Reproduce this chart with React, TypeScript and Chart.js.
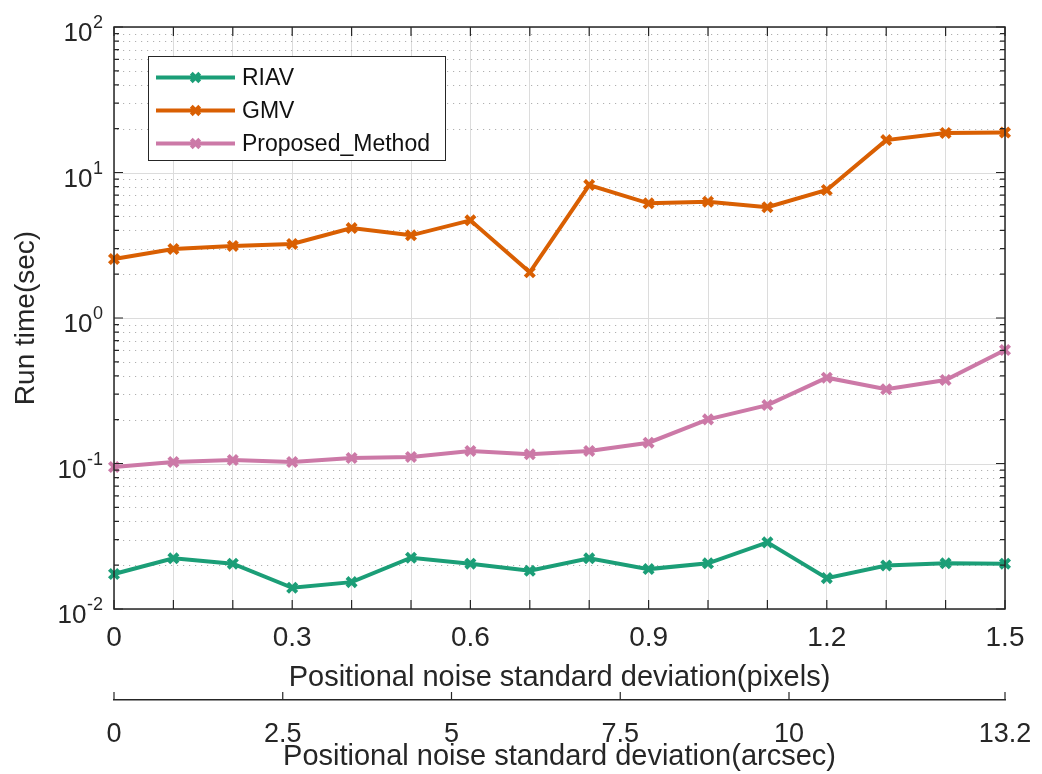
import React, { useEffect, useRef } from 'react';
import { Chart, registerables } from 'chart.js';

Chart.register(...registerables);

// ---- data ----
const xValues = [0, 0.1, 0.2, 0.3, 0.4, 0.5, 0.6, 0.7, 0.8, 0.9, 1.0, 1.1, 1.2, 1.3, 1.4, 1.5];
const riav = [0.0174, 0.0223, 0.0205, 0.014, 0.0153, 0.0225, 0.0205, 0.0183, 0.0223, 0.0188, 0.0206, 0.0287, 0.0163, 0.0199, 0.0206, 0.0205];
const gmv = [2.54, 2.98, 3.13, 3.23, 4.15, 3.7, 4.69, 2.06, 8.2, 6.14, 6.3, 5.77, 7.58, 16.7, 18.7, 18.8];
const proposed = [0.0946, 0.1024, 0.1057, 0.1024, 0.109, 0.111, 0.122, 0.1157, 0.122, 0.139, 0.201, 0.252, 0.389, 0.324, 0.375, 0.603];
const seriesNames = ['RIAV', 'GMV', 'Proposed_Method'];
const xLabelTicks = [0, 0.3, 0.6, 0.9, 1.2, 1.5];
const arcsecTicks = [0, 2.5, 5, 7.5, 10, 13.2];
const yDecades = [-2, -1, 0, 1, 2];

const COLORS = ['#1b9e77', '#d95f02', '#cc79a7'];
const FONT = "'Liberation Sans', Arial, Helvetica, sans-serif";
const AXIS = '#262626';

function drawCross(ctx: CanvasRenderingContext2D, x: number, y: number, r: number, color: string, w: number) {
  const d = r * Math.SQRT1_2;
  ctx.save();
  ctx.strokeStyle = color;
  ctx.lineWidth = w;
  ctx.beginPath();
  ctx.moveTo(x - d, y - d);
  ctx.lineTo(x + d, y + d);
  ctx.moveTo(x - d, y + d);
  ctx.lineTo(x + d, y - d);
  ctx.stroke();
  ctx.restore();
}

const matlabPlugin = {
  id: 'matlabLook',
  beforeDatasetsDraw(chart: any) {
    const { ctx, chartArea: a, scales } = chart;
    const y = scales.y;
    ctx.save();
    ctx.lineWidth = 1;
    ctx.strokeStyle = '#b0b0b0';
    ctx.setLineDash([1.2, 4.8]);
    for (let d = -2; d <= 1; d++) {
      for (let k = 2; k <= 9; k++) {
        const py = Math.round(y.getPixelForValue(k * Math.pow(10, d))) + 0.5;
        ctx.beginPath();
        ctx.moveTo(a.left + 3, py);
        ctx.lineTo(a.right, py);
        ctx.stroke();
      }
    }
    ctx.setLineDash([]);
    ctx.strokeStyle = '#dcdcdc';
    for (const e of yDecades) {
      const py = Math.round(y.getPixelForValue(Math.pow(10, e))) + 0.5;
      ctx.beginPath();
      ctx.moveTo(a.left, py);
      ctx.lineTo(a.right, py);
      ctx.stroke();
    }
    ctx.restore();
  },
  afterDatasetsDraw(chart: any) {
    const { ctx, chartArea: a, scales } = chart;
    const x = scales.x;
    const y = scales.y;
    ctx.save();
    ctx.strokeStyle = AXIS;
    ctx.lineWidth = 1.5;
    ctx.strokeRect(a.left, a.top, a.right - a.left, a.bottom - a.top);
    ctx.lineWidth = 1.2;
    ctx.beginPath();
    for (const t of x.ticks) {
      const px = x.getPixelForValue(t.value);
      ctx.moveTo(px, a.bottom);
      ctx.lineTo(px, a.bottom - 9);
      ctx.moveTo(px, a.top);
      ctx.lineTo(px, a.top + 9);
    }
    for (let d = -2; d <= 2; d++) {
      const kMax = d === 2 ? 1 : 9;
      for (let k = 1; k <= kMax; k++) {
        const py = y.getPixelForValue(k * Math.pow(10, d));
        const len = k === 1 ? 9 : 5;
        ctx.moveTo(a.left, py);
        ctx.lineTo(a.left + len, py);
        ctx.moveTo(a.right, py);
        ctx.lineTo(a.right - len, py);
      }
    }
    ctx.stroke();
    ctx.restore();
  },
  afterDraw(chart: any) {
    const { ctx, chartArea: a, scales } = chart;
    const y = scales.y;
    const x2 = scales.x2;
    ctx.save();
    // y tick labels with superscript exponents
    ctx.fillStyle = AXIS;
    ctx.textBaseline = 'alphabetic';
    const right = a.left - 11;
    for (const e of yDecades) {
      const py = y.getPixelForValue(Math.pow(10, e));
      const sup = String(e);
      ctx.font = `18px ${FONT}`;
      const supW = ctx.measureText(sup).width;
      ctx.textAlign = 'left';
      ctx.fillText(sup, right - supW, py + 1);
      ctx.font = `26px ${FONT}`;
      ctx.textAlign = 'right';
      ctx.fillText('10', right - supW - 0.5, py + 14);
    }
    // arcsec axis ticks pointing up
    ctx.strokeStyle = AXIS;
    ctx.lineWidth = 1.2;
    ctx.beginPath();
    for (const v of arcsecTicks) {
      const px = x2.getPixelForValue(v);
      ctx.moveTo(px, x2.top);
      ctx.lineTo(px, x2.top - 8);
    }
    ctx.stroke();
    // legend
    const lx = a.left + 34;
    const ly = a.top + 29;
    const lw = 297;
    const lh = 104;
    ctx.fillStyle = '#ffffff';
    ctx.fillRect(lx, ly, lw, lh);
    ctx.strokeStyle = AXIS;
    ctx.lineWidth = 1;
    ctx.strokeRect(lx + 0.5, ly + 0.5, lw, lh);
    seriesNames.forEach((name, i) => {
      const ry = ly + 21.5 + i * 33;
      ctx.strokeStyle = COLORS[i];
      ctx.lineWidth = 4;
      ctx.beginPath();
      ctx.moveTo(lx + 8, ry);
      ctx.lineTo(lx + 87, ry);
      ctx.stroke();
      drawCross(ctx, lx + 47.5, ry, 6, COLORS[i], 4);
      ctx.fillStyle = '#111111';
      ctx.font = `23px ${FONT}`;
      ctx.textAlign = 'left';
      ctx.textBaseline = 'middle';
      ctx.fillText(name, lx + 94, ry + 1);
    });
    ctx.restore();
  },
};

export default function App() {
  const canvasRef = useRef<HTMLCanvasElement | null>(null);

  useEffect(() => {
    const canvas = canvasRef.current;
    if (!canvas) return;
    const makeDataset = (label: string, values: number[], color: string) => ({
      label,
      data: xValues.map((xv, i) => ({ x: xv, y: values[i] })),
      borderColor: color,
      backgroundColor: color,
      borderWidth: 4,
      pointStyle: 'crossRot',
      pointRadius: 6.5,
      pointBorderWidth: 4,
      pointBorderColor: color,
      tension: 0,
      clip: false,
    });
    const chart = new Chart(canvas, {
      type: 'line',
      data: {
        datasets: [
          makeDataset(seriesNames[0], riav, COLORS[0]),
          makeDataset(seriesNames[1], gmv, COLORS[1]),
          makeDataset(seriesNames[2], proposed, COLORS[2]),
        ],
      },
      options: {
        animation: false,
        responsive: false,
        maintainAspectRatio: false,
        devicePixelRatio: 1,
        events: [],
        layout: { padding: { left: 0, right: 37, top: 27, bottom: 0 } },
        plugins: {
          legend: { display: false },
          tooltip: { enabled: false },
        },
        scales: {
          x: {
            type: 'linear',
            position: 'bottom',
            weight: 0,
            min: 0,
            max: 1.5,
            ticks: {
              stepSize: 0.1,
              autoSkip: false,
              maxRotation: 0,
              padding: 12,
              color: AXIS,
              font: { family: FONT, size: 28 },
              callback: (v: any) => {
                const r = Math.round(Number(v) * 10) / 10;
                return xLabelTicks.some((t) => Math.abs(t - r) < 1e-9) ? String(r) : '';
              },
            },
            grid: { display: true, color: '#dcdcdc', lineWidth: 1, drawTicks: false },
            border: { display: false },
            title: {
              display: true,
              text: 'Positional noise standard deviation(pixels)',
              color: AXIS,
              font: { family: FONT, size: 29 },
              padding: { top: 0, bottom: 5 },
            },
            afterFit: (s: any) => {
              s.height = 91;
              s.paddingLeft = 0;
              s.paddingRight = 0;
            },
          },
          x2: {
            type: 'linear',
            position: 'bottom',
            weight: 1,
            min: 0,
            max: 13.2,
            afterBuildTicks: (s: any) => {
              s.ticks = arcsecTicks.map((v) => ({ value: v }));
            },
            ticks: {
              autoSkip: false,
              maxRotation: 0,
              padding: 18,
              color: AXIS,
              font: { family: FONT, size: 27 },
              callback: (v: any) => String(v),
            },
            grid: { display: false, drawTicks: false },
            border: { display: true, color: AXIS, width: 1.5 },
            title: {
              display: true,
              text: 'Positional noise standard deviation(arcsec)',
              color: AXIS,
              font: { family: FONT, size: 29 },
              padding: { top: 0, bottom: 0 },
            },
            afterFit: (s: any) => {
              s.height = 74;
              s.paddingLeft = 0;
              s.paddingRight = 0;
            },
          },
          y: {
            type: 'logarithmic',
            position: 'left',
            min: 0.01,
            max: 100,
            ticks: { display: false },
            grid: { display: false, drawTicks: false },
            border: { display: false },
            title: {
              display: true,
              text: 'Run time(sec)',
              color: AXIS,
              font: { family: FONT, size: 28 },
              padding: { top: 9, bottom: 0 },
            },
            afterFit: (s: any) => {
              s.width = 114;
              s.paddingTop = 0;
              s.paddingBottom = 0;
            },
          },
        },
      } as any,
      plugins: [matlabPlugin],
    });
    return () => chart.destroy();
  }, []);

  return (
    <div style={{ position: 'absolute', left: 0, top: 0, width: 1042, height: 774, background: '#ffffff' }}>
      <canvas ref={canvasRef} width={1042} height={774} style={{ display: 'block', width: 1042, height: 774 }} />
    </div>
  );
}
